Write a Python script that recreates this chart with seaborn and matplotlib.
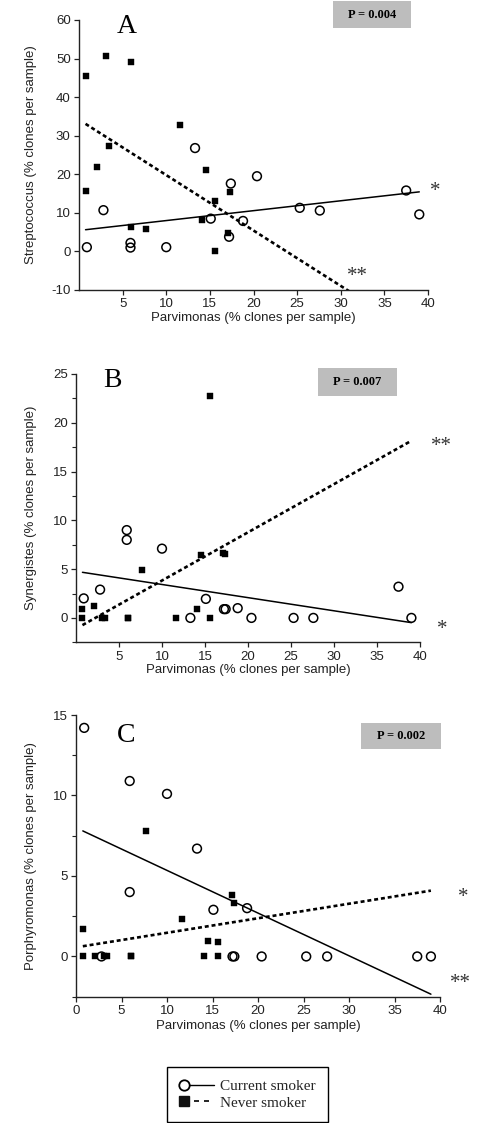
import matplotlib

matplotlib.use("Agg")
import matplotlib.pyplot as plt
import numpy as np
import pandas as pd
import seaborn as sns
from matplotlib.legend_handler import HandlerLine2D
from matplotlib.lines import Line2D
from matplotlib.patches import Rectangle
from matplotlib.ticker import MultipleLocator


# -- Data ---------------------------------------------------------------------

# Parvimonas (% clones per sample), same subjects in every panel
current_x = [0.9, 2.8, 5.9, 5.9, 10.0, 13.3, 15.1, 17.2, 17.4, 18.8, 20.4, 25.3, 27.6, 37.5, 39.0]
never_x = [0.75, 0.75, 2.05, 3.05, 3.4, 6.0, 6.0, 7.65, 11.6, 14.1, 14.5, 15.6, 15.6, 17.1, 17.35]

strep_current = [1.1, 10.7, 2.2, 1.0, 1.1, 26.8, 8.5, 3.8, 17.6, 7.9, 19.5, 11.3, 10.6, 15.8, 9.6]
strep_never = [45.6, 15.7, 21.8, 50.6, 27.4, 49.0, 6.3, 5.9, 32.7, 8.1, 21.0, 13.1, 0.2, 4.9, 15.3]

syn_current = [2.0, 2.9, 9.0, 8.0, 7.1, 0.0, 1.95, 0.9, 0.9, 1.0, 0.0, 0.0, 0.0, 3.2, 0.0]
syn_never = [0.9, 0.0, 1.2, 0.0, 0.0, 0.0, 0.0, 4.9, 0.0, 0.9, 6.4, 22.7, 0.0, 6.7, 6.6]

porph_current = [14.2, 0.0, 10.9, 4.0, 10.1, 6.7, 2.9, 0.0, 0.0, 3.0, 0.0, 0.0, 0.0, 0.0, 0.0]
porph_never = [1.7, 0.0, 0.0, 0.0, 0.0, 0.0, 0.0, 7.8, 2.3, 0.0, 0.95, 0.9, 0.0, 3.8, 3.3]

panel_letters = ["A", "B", "C"]
p_values = ["P = 0.004", "P = 0.007", "P = 0.002"]
y_labels = [
    "Streptococcus (% clones per sample)",
    "Synergistes (% clones per sample)",
    "Porphyromonas (% clones per sample)",
]
x_label = "Parvimonas (% clones per sample)"
# significance marks next to each fit line: (current smoker, never smoker)
stars = [("*", "**"), ("*", "**"), ("**", "*")]
legend_labels = ["Current smoker", "Never smoker"]


# -- Layout (figure pixels, 493 x 1123) ---------------------------------------

W, H = 493, 1123
PANELS = [
    # axes box (left, top, right, bottom), ylim, y major, y minor, x ticks
    dict(box=(79, 20, 428, 290), ylim=(-10, 60), major=10, minor=None, xticks=range(5, 41, 5)),
    dict(box=(76, 374, 420, 642.3), ylim=(-2.5, 25), major=5, minor=2.5, xticks=range(5, 41, 5)),
    dict(box=(76, 715, 440, 996.7), ylim=(-2.5, 15), major=5, minor=2.5, xticks=range(0, 41, 5)),
]
LETTER_POS = [(127, 33), (112, 387), (126.5, 741.7)]
P_BOX = [(333, 1, 78, 27), (318, 368, 79, 28), (361, 723, 80, 26)]
STAR_POS = [
    ((435, 186), (357, 271)),
    ((442, 624), (441.7, 441)),
    ((460, 978), (463, 892)),
]

SANS = ["Liberation Sans", "DejaVu Sans"]
SERIF = ["Liberation Serif", "DejaVu Serif"]

sns.set_theme(style="ticks")
plt.rcParams["font.family"] = SANS
plt.rcParams["axes.unicode_minus"] = False

INK = "#222222"
SOLID_LW = 1.1
DASH_LW = 1.9
DASH = (0, (1.5, 1.1))


def fx(px):
    return px / W


def fy(py):
    return 1 - py / H


class LeftMarkerHandler(HandlerLine2D):
    # marker at the left end of the legend line, as in the original key
    def create_artists(self, *args, **kwargs):
        artists = super().create_artists(*args, **kwargs)
        artists[0].set_markevery([0])
        return artists


def fit_line(x, y, x_range):
    slope, intercept = np.polyfit(x, y, 1)
    xs = np.array(x_range)
    return pd.DataFrame({"x": xs, "y": slope * xs + intercept})


fig = plt.figure(figsize=(W / 100, H / 100), dpi=100)

series = [
    (strep_current, strep_never),
    (syn_current, syn_never),
    (porph_current, porph_never),
]
x_span = (min(current_x + never_x), max(current_x + never_x))

for i, (spec, (y_cur, y_nev)) in enumerate(zip(PANELS, series)):
    left, top, right, bottom = spec["box"]
    ax = fig.add_axes([fx(left), fy(bottom), (right - left) / W, (bottom - top) / H])

    cur_fit = fit_line(current_x, y_cur, x_span)
    nev_fit = fit_line(never_x, y_nev, x_span)
    sns.lineplot(data=cur_fit, x="x", y="y", ax=ax, color="black", linewidth=SOLID_LW,
                 estimator=None, zorder=2)
    sns.lineplot(data=nev_fit, x="x", y="y", ax=ax, color="black", linewidth=DASH_LW,
                 linestyle=DASH, estimator=None, zorder=2)

    sns.scatterplot(x=never_x, y=y_nev, ax=ax, marker="s", s=18, color="black",
                    edgecolor="black", linewidth=0.3, zorder=3)
    sns.scatterplot(x=current_x, y=y_cur, ax=ax, marker="o", s=40, facecolor="none",
                    edgecolor="black", linewidth=1.1, zorder=4)

    ax.set_xlim(0, 40)
    ax.set_ylim(*spec["ylim"])
    ax.set_xticks(list(spec["xticks"]))
    ax.yaxis.set_major_locator(MultipleLocator(spec["major"]))
    if spec["minor"]:
        ax.yaxis.set_minor_locator(MultipleLocator(spec["minor"]))
    ax.set_ylim(*spec["ylim"])
    ax.tick_params(axis="both", which="major", labelsize=9.5, length=3.5, width=0.9,
                   pad=2.5, color=INK, labelcolor=INK)
    ax.tick_params(axis="y", which="minor", length=3, width=0.8, color=INK)
    for side in ("left", "bottom"):
        ax.spines[side].set_color(INK)
        ax.spines[side].set_linewidth(1.0)
    sns.despine(ax=ax)
    ax.grid(False)

    ax.set_xlabel(x_label, fontsize=9.5, color=INK)
    ax.set_ylabel(y_labels[i], fontsize=9.5, color=INK)
    ax.xaxis.set_label_coords(0.5, -0.082)
    ax.yaxis.set_label_coords((37 - left) / (right - left), 0.5)

    # panel letter
    lx, ly = LETTER_POS[i]
    fig.text(fx(lx), fy(ly), panel_letters[i], family=SERIF, fontsize=20,
             ha="center", va="baseline", color="black")

    # grey P-value box
    bx, by, bw, bh = P_BOX[i]
    fig.add_artist(Rectangle((fx(bx), fy(by + bh)), bw / W, bh / H, transform=fig.transFigure,
                             facecolor="#bdbdbd", edgecolor="none"))
    fig.text(fx(bx + bw / 2), fy(by + bh / 2), p_values[i], family=SERIF, fontsize=9,
             fontweight="bold", ha="center", va="center", color="black")

    # significance asterisks
    for label, (sx, sy) in zip(stars[i], STAR_POS[i]):
        fig.text(fx(sx), fy(sy + 10), label, family=SERIF, fontsize=15,
                 ha="center", va="baseline", color="#333333")

# -- Legend --------------------------------------------------------------------

handles = [
    Line2D([], [], color="black", linewidth=1.0, marker="o", markersize=7.5,
           markerfacecolor="white", markeredgecolor="black", markeredgewidth=1.3),
    Line2D([], [], color="black", linewidth=1.2, linestyle=(0, (3, 3)), marker="s",
           markersize=7, markerfacecolor="#111111", markeredgecolor="#111111"),
]
leg = fig.legend(
    handles,
    legend_labels,
    loc="lower center",
    bbox_to_anchor=(fx(247.5), fy(1122)),
    bbox_transform=fig.transFigure,
    handler_map={Line2D: LeftMarkerHandler(numpoints=2)},
    prop={"family": SERIF, "size": 11},
    frameon=True,
    fancybox=False,
    edgecolor="black",
    framealpha=1,
    handlelength=2.6,
    handletextpad=0.1,
    labelspacing=0.2,
    borderpad=0.8,
    borderaxespad=0,
)
leg.get_frame().set_linewidth(1.0)

fig.savefig("out.png", dpi=100)
